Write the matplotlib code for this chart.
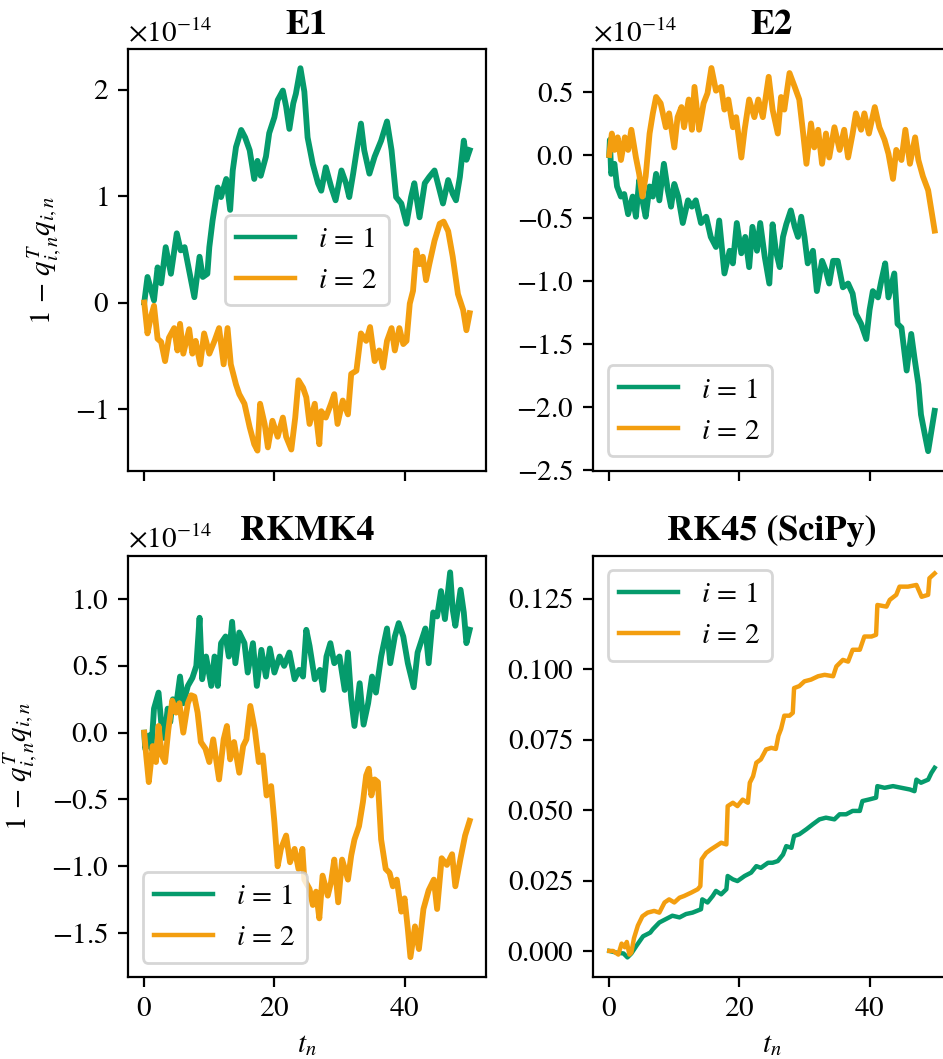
import matplotlib
matplotlib.use('Agg')
import matplotlib.pyplot as plt
import numpy as np

plt.rcParams['font.family'] = ['STIXGeneral', 'DejaVu Serif']
plt.rcParams['mathtext.fontset'] = 'stix'
plt.rcParams['axes.formatter.use_mathtext'] = True
plt.rcParams['font.size'] = 10.5

green = '#059B6C'
orange = '#F39E0F'

# E1, values in units of 1e-14
e1_t1 = [0, 0.5, 1.5, 2.05, 2.6, 3.3, 4.1, 5.0, 5.6, 6.2, 6.9, 7.7, 8.5, 9.0, 9.7, 10.0, 10.5, 11.3, 11.8, 12.6,
         13.2, 13.6, 14.1, 14.9, 15.5, 16.2, 16.9, 17.4, 17.9, 18.7, 19.2, 20.0, 20.5, 21.3, 21.8, 22.3, 22.9, 23.3,
         24.0, 24.6, 25.1, 25.9, 26.7, 27.2, 27.9, 28.7, 29.4, 30.3, 31.0, 31.5, 32.1, 32.8, 33.3, 33.8, 34.6, 35.4,
         36.4, 37.3, 38.0, 38.7, 39.5, 40.3, 41.0, 41.5, 42.3, 43.1, 43.8, 44.6, 45.4, 45.9, 46.7, 47.4, 47.9, 48.5,
         49.1, 49.5, 50.0]
e1_q1 = [0.0, 0.24, 0.02, 0.33, 0.18, 0.52, 0.27, 0.65, 0.49, 0.52, 0.30, 0.05, 0.43, 0.24, 0.27, 0.52, 0.77, 1.08,
         0.99, 1.16, 0.87, 1.24, 1.46, 1.62, 1.55, 1.43, 1.16, 1.33, 1.19, 1.37, 1.59, 1.74, 1.90, 1.99, 1.84, 1.63,
         1.87, 1.96, 2.20, 1.98, 1.55, 1.30, 1.12, 1.05, 1.27, 1.09, 0.96, 1.24, 1.12, 0.99, 1.21, 1.49, 1.68, 1.43,
         1.21, 1.37, 1.52, 1.70, 1.43, 0.99, 0.93, 0.74, 0.99, 1.12, 0.80, 1.12, 1.18, 1.24, 1.05, 0.93, 1.15, 1.02,
         0.96, 1.18, 1.52, 1.34, 1.43]
e1_t2 = [0, 0.5, 1.0, 1.5, 2.05, 2.6, 3.2, 3.8, 4.6, 5.1, 5.5, 6.0, 6.9, 7.4, 7.9, 8.6, 9.2, 10.0, 10.8, 11.5, 12.2,
         12.8, 13.3, 14.1, 14.6, 15.4, 16.2, 16.9, 17.4, 17.8, 18.5, 19.0, 19.7, 20.5, 21.3, 21.8, 22.6, 23.2, 23.7,
         24.4, 24.9, 25.4, 26.2, 26.9, 27.2, 27.9, 28.7, 29.2, 29.7, 30.5, 31.3, 31.8, 32.6, 33.3, 34.1, 34.7, 35.4,
         36.1, 36.7, 37.3, 38.0, 38.5, 39.2, 39.8, 40.3, 40.8, 41.3, 41.8, 42.3, 42.8, 43.3, 43.8, 44.6, 45.4, 46.0,
         46.7, 47.4, 48.2, 49.0, 49.5, 50.0]
e1_q2 = [0.0, -0.29, -0.14, -0.03, -0.34, -0.37, -0.55, -0.33, -0.24, -0.45, -0.20, -0.48, -0.25, -0.48, -0.36,
         -0.58, -0.29, -0.48, -0.36, -0.24, -0.58, -0.24, -0.58, -0.77, -0.86, -0.95, -1.17, -1.33, -1.39, -0.95,
         -1.14, -1.36, -1.11, -1.26, -1.08, -1.26, -1.38, -1.08, -0.73, -0.80, -0.89, -1.14, -0.95, -1.33, -1.02,
         -1.08, -0.95, -0.86, -1.14, -0.92, -1.05, -0.67, -0.64, -0.29, -0.36, -0.23, -0.55, -0.45, -0.61, -0.36,
         -0.24, -0.45, -0.24, -0.39, -0.36, -0.01, 0.11, 0.49, 0.36, 0.43, 0.21, 0.36, 0.58, 0.74, 0.76, 0.67, 0.43,
         0.08, -0.07, -0.26, -0.10]

# E2, values in units of 1e-14
e2_t1 = [0, 0.1, 0.3, 0.8, 1.2, 1.8, 2.3, 2.9, 3.6, 4.1, 4.6, 5.1, 5.6, 6.2, 6.7, 7.2, 7.7, 8.4, 9.0, 9.5, 10.0,
         10.6, 11.3, 12.1, 12.7, 13.3, 14.1, 14.9, 15.6, 16.4, 16.9, 17.7, 18.5, 19.0, 19.6, 20.3, 20.9, 21.5, 22.0,
         22.7, 23.2, 23.9, 24.6, 25.1, 25.6, 26.2, 26.7, 27.2, 27.9, 28.5, 29.0, 29.5, 30.0, 30.5, 31.3, 31.9, 32.7,
         33.3, 33.8, 34.4, 35.1, 35.9, 36.7, 37.4, 37.9, 38.7, 39.5, 40.0, 40.5, 41.3, 41.8, 42.4, 42.9, 43.8, 44.3,
         44.9, 45.7, 46.4, 46.9, 47.5, 47.9, 48.5, 49.0, 49.5, 50.0]
e2_q1 = [0.0, 0.12, -0.15, -0.07, -0.25, -0.33, -0.31, -0.47, -0.33, -0.49, -0.20, -0.36, -0.49, -0.25, -0.33,
         -0.15, -0.36, -0.07, -0.28, -0.41, -0.23, -0.33, -0.54, -0.36, -0.41, -0.36, -0.54, -0.49, -0.65, -0.73,
         -0.52, -0.94, -0.76, -0.86, -0.54, -0.78, -0.65, -0.89, -0.57, -0.76, -0.54, -0.81, -1.02, -0.55, -0.76,
         -0.89, -0.65, -0.55, -0.44, -0.57, -0.65, -0.49, -0.65, -0.86, -0.76, -1.08, -0.84, -0.92, -1.02, -0.84,
         -0.84, -1.05, -1.02, -1.10, -1.26, -1.34, -1.46, -1.23, -1.08, -1.13, -1.00, -0.86, -1.13, -0.94, -1.34,
         -1.37, -1.71, -1.42, -1.61, -1.82, -2.06, -2.22, -2.35, -2.19, -2.03]
e2_t2 = [0, 0.4, 0.8, 1.3, 1.8, 2.4, 2.9, 3.4, 4.1, 4.6, 5.1, 5.6, 6.2, 6.7, 7.2, 7.9, 8.7, 9.2, 10.0, 10.5, 11.1,
         11.5, 12.2, 12.7, 13.1, 13.8, 14.5, 15.1, 15.7, 16.4, 17.2, 17.7, 18.3, 19.0, 19.5, 20.3, 20.8, 21.5, 22.3,
         22.9, 23.6, 24.5, 25.1, 25.9, 26.4, 26.9, 27.7, 28.5, 29.2, 29.8, 30.3, 31.0, 31.5, 32.1, 32.7, 33.3, 33.8,
         34.6, 35.4, 36.1, 36.7, 37.4, 37.9, 38.7, 39.2, 39.9, 40.8, 41.5, 42.3, 42.9, 43.6, 44.1, 44.9, 45.5, 46.2,
         47.0, 47.5, 48.2, 49.0, 49.5, 50.0]
e2_q2 = [0.0, 0.17, 0.04, 0.14, -0.04, 0.14, 0.04, 0.20, -0.02, -0.15, -0.33, -0.17, 0.17, 0.33, 0.46, 0.41, 0.22,
         0.33, 0.06, 0.30, 0.38, 0.22, 0.44, 0.20, 0.54, 0.20, 0.41, 0.49, 0.69, 0.51, 0.54, 0.36, 0.44, 0.22, 0.30,
         -0.02, 0.20, 0.44, 0.30, 0.44, 0.30, 0.62, 0.36, 0.17, 0.46, 0.36, 0.65, 0.54, 0.44, 0.17, -0.07, 0.25, 0.06,
         0.20, -0.07, 0.17, -0.02, 0.22, 0.04, 0.20, -0.02, 0.17, 0.33, 0.20, 0.33, 0.17, 0.38, 0.22, 0.12, 0.01,
         -0.19, 0.04, -0.04, 0.20, -0.07, 0.14, -0.04, -0.17, -0.28, -0.44, -0.60]

# RKMK4, values in units of 1e-14
rk4_t1 = [0, 0.15, 0.8, 1.1, 1.5, 2.2, 2.6, 3.1, 3.6, 4.0, 4.4, 4.9, 5.5, 6.0, 6.7, 7.4, 8.0, 8.5, 8.9, 9.5, 10.3,
          10.8, 11.3, 11.8, 12.5, 13.0, 13.5, 14.0, 14.6, 15.4, 15.9, 16.7, 17.3, 18.0, 18.7, 19.3, 20.0, 20.8, 21.5,
          22.3, 23.1, 23.8, 24.4, 24.9, 25.4, 26.2, 27.0, 27.5, 28.0, 28.6, 29.2, 30.0, 30.8, 31.3, 31.8, 32.3, 33.1,
          33.7, 34.4, 35.0, 35.6, 36.4, 37.3, 37.8, 38.5, 39.1, 39.8, 40.5, 41.4, 42.0, 42.8, 43.2, 43.7, 44.4, 45.0,
          45.6, 46.2, 47.0, 47.4, 47.8, 48.6, 49.1, 49.5, 50.0]
rk4_q1 = [0.0, -0.12, -0.02, -0.12, 0.18, 0.30, 0.08, -0.04, 0.18, 0.08, 0.25, 0.20, 0.42, 0.22, 0.35, 0.41, 0.50,
          0.86, 0.40, 0.57, 0.35, 0.57, 0.35, 0.67, 0.72, 0.57, 0.83, 0.52, 0.75, 0.67, 0.45, 0.67, 0.35, 0.62, 0.42,
          0.63, 0.45, 0.57, 0.50, 0.60, 0.40, 0.47, 0.42, 0.77, 0.65, 0.40, 0.47, 0.32, 0.57, 0.67, 0.52, 0.57, 0.32,
          0.60, 0.25, 0.05, 0.37, 0.06, 0.22, 0.42, 0.30, 0.57, 0.78, 0.52, 0.72, 0.82, 0.72, 0.52, 0.34, 0.60, 0.72,
          0.78, 0.52, 0.90, 0.87, 1.06, 0.85, 1.20, 0.92, 0.80, 1.07, 0.90, 0.67, 0.77]
rk4_t2 = [0, 0.3, 0.7, 1.3, 1.8, 2.2, 2.7, 3.2, 3.7, 4.3, 4.9, 5.4, 6.0, 6.7, 7.2, 7.7, 8.2, 8.7, 9.4, 10.0, 10.6,
          11.1, 11.5, 12.2, 12.7, 13.2, 13.8, 14.6, 15.2, 15.7, 16.3, 17.0, 17.6, 18.2, 18.8, 19.5, 20.0, 20.5, 21.0,
          21.8, 22.4, 23.1, 23.7, 24.3, 24.6, 25.4, 25.9, 26.4, 26.9, 27.4, 28.2, 28.7, 29.2, 29.8, 30.4, 31.3, 31.8,
          32.3, 33.0, 33.6, 34.1, 34.5, 34.9, 35.4, 35.9, 36.4, 37.1, 37.7, 38.2, 38.8, 39.5, 40.0, 40.5, 40.9, 41.6,
          42.2, 42.9, 43.7, 44.5, 45.0, 45.7, 46.5, 47.3, 47.8, 48.6, 49.3, 50.0]
rk4_q2 = [0.0, -0.17, -0.37, -0.10, -0.22, 0.05, -0.17, -0.22, 0.02, 0.24, 0.15, 0.22, 0.0, 0.22, 0.28, 0.27, 0.15,
          -0.07, -0.12, -0.22, -0.05, -0.22, -0.35, -0.05, 0.05, -0.20, -0.07, -0.30, -0.10, -0.05, 0.20, 0.02, -0.22,
          -0.17, -0.47, -0.40, -0.67, -1.00, -0.87, -0.77, -0.97, -0.87, -1.02, -0.87, -1.10, -1.17, -1.29, -1.19,
          -1.39, -1.07, -1.22, -1.12, -0.95, -1.27, -0.95, -1.10, -0.92, -0.80, -0.70, -0.52, -0.32, -0.27, -0.47,
          -0.35, -0.37, -0.80, -1.02, -1.05, -1.15, -1.10, -1.34, -1.24, -1.47, -1.68, -1.45, -1.62, -1.32, -1.18,
          -1.10, -1.32, -0.94, -0.99, -0.91, -1.15, -0.94, -0.77, -0.66]

# RK45 (SciPy)
rk45_t1 = [0, 1.1, 2.2, 2.8, 3.4, 4.2, 5.2, 6.3, 6.7, 7.7, 8.7, 9.7, 10.8, 11.8, 12.8, 14.1, 14.3, 15.1, 15.9, 16.4,
           17.2, 18.0, 18.2, 19.0, 19.7, 20.8, 21.8, 22.6, 23.3, 24.4, 25.1, 25.9, 26.7, 27.2, 28.0, 28.4, 29.2, 30.3,
           31.3, 32.3, 33.3, 34.6, 35.4, 36.4, 37.4, 38.5, 38.9, 40.0, 41.0, 41.2, 42.3, 43.6, 44.9, 46.2, 46.9, 47.2,
           47.9, 49.0, 49.5, 50.0]
rk45_q1 = [0.0, -0.0006, -0.0009, -0.0023, -0.0009, 0.0019, 0.0052, 0.0065, 0.0077, 0.0101, 0.0113, 0.0125, 0.0119,
           0.0131, 0.0136, 0.0148, 0.0183, 0.0172, 0.0195, 0.0213, 0.0201, 0.0219, 0.0266, 0.0254, 0.0248, 0.0266,
           0.0278, 0.0301, 0.0295, 0.0313, 0.0313, 0.0319, 0.0342, 0.0372, 0.0366, 0.0408, 0.0414, 0.0432, 0.0450,
           0.0467, 0.0473, 0.0467, 0.0485, 0.0485, 0.0497, 0.0497, 0.0532, 0.0538, 0.0544, 0.0585, 0.0579, 0.0585,
           0.0579, 0.0573, 0.0567, 0.0608, 0.0597, 0.0608, 0.0632, 0.0650]
rk45_t2 = [0, 0.6, 1.4, 1.9, 2.4, 2.7, 3.1, 3.4, 3.8, 4.4, 5.1, 5.9, 6.9, 7.7, 8.5, 9.2, 10.0, 10.8, 11.5, 12.6,
           13.6, 14.0, 14.2, 14.9, 15.6, 16.4, 17.2, 18.0, 18.2, 19.0, 19.7, 20.5, 21.3, 21.6, 22.1, 22.6, 23.3, 24.1,
           24.9, 25.6, 26.0, 26.4, 26.9, 27.7, 28.2, 28.4, 29.2, 30.0, 31.0, 32.1, 33.1, 34.4, 34.9, 35.9, 36.7, 37.4,
           38.5, 39.2, 40.3, 41.0, 41.2, 42.6, 43.1, 44.1, 44.6, 45.9, 47.2, 48.0, 49.0, 49.2, 50.0]
rk45_q2 = [0.0, 0.0, -0.0013, 0.0026, 0.0013, 0.0032, -0.0013, -0.0006, 0.0045, 0.0090, 0.0123, 0.0136, 0.0142,
           0.0136, 0.0172, 0.0183, 0.0172, 0.0189, 0.0195, 0.0207, 0.0219, 0.0230, 0.0325, 0.0348, 0.0360, 0.0372,
           0.0384, 0.0378, 0.0514, 0.0526, 0.0514, 0.0537, 0.0526, 0.0597, 0.0620, 0.0668, 0.0680, 0.0715, 0.0721,
           0.0717, 0.0764, 0.0788, 0.0835, 0.0835, 0.0845, 0.0933, 0.0940, 0.0957, 0.0963, 0.0975, 0.0980, 0.0975,
           0.1010, 0.1033, 0.1027, 0.1069, 0.1069, 0.1116, 0.1116, 0.1122, 0.1228, 0.1222, 0.1246, 0.1264, 0.1293,
           0.1293, 0.1299, 0.1257, 0.1264, 0.1323, 0.1340]

titles = ['E1', 'E2', 'RKMK4', 'RK45 (SciPy)']
scale = [1e-14, 1e-14, 1e-14, 1.0]
series = [(e1_t1, e1_q1, e1_t2, e1_q2), (e2_t1, e2_q1, e2_t2, e2_q2),
          (rk4_t1, rk4_q1, rk4_t2, rk4_q2), (rk45_t1, rk45_q1, rk45_t2, rk45_q2)]
ylims = [(-1.58, 2.377), (-2.506, 0.838), (-1.83, 1.325), (-0.0093, 0.1403)]
yticks = [[-1, 0, 1, 2], [-2.5, -2.0, -1.5, -1.0, -0.5, 0.0, 0.5],
          [-1.5, -1.0, -0.5, 0.0, 0.5, 1.0], [0.0, 0.025, 0.05, 0.075, 0.1, 0.125]]
legend_loc = ['center', 'lower left', 'lower left', 'upper left']
lw = [2.1, 2.1, 2.1, 1.6]

fig = plt.figure(figsize=(9.43 / 2, 10.59 / 2), dpi=200)
w, h = 0.3796, 0.398
positions = [[0.1357, 0.5554, w, h], [0.6288, 0.5554, w, h],
             [0.1357, 0.0773, w, h], [0.6288, 0.0773, w, h]]

for k in range(4):
    ax = fig.add_axes(positions[k])
    t1, q1, t2, q2 = series[k]
    s = scale[k]
    ax.plot(t1, np.array(q1) * s, color=green, lw=lw[k], label=r'$i\,=\,1$')
    ax.plot(t2, np.array(q2) * s, color=orange, lw=lw[k], label=r'$i\,=\,2$')
    ax.set_xlim(-2.5, 52.5)
    ax.set_xticks([0, 20, 40])
    ax.set_ylim(ylims[k][0] * s, ylims[k][1] * s)
    ax.set_yticks(np.array(yticks[k]) * s)
    ax.set_title(titles[k], fontweight='bold', fontsize=13, pad=5.5)
    leg = ax.legend(loc=legend_loc[k], handlelength=2.0)
    for line in leg.get_lines():
        line.set_linewidth(1.6)
    if k < 2:
        ax.tick_params(axis='x', labelbottom=False)
    else:
        ax.set_xlabel('$t_n$')
    if k % 2 == 0:
        ax.set_ylabel(r'$1\,-\,q_{i,n}^T q_{i,n}$')

plt.savefig('out.png', dpi=200)
